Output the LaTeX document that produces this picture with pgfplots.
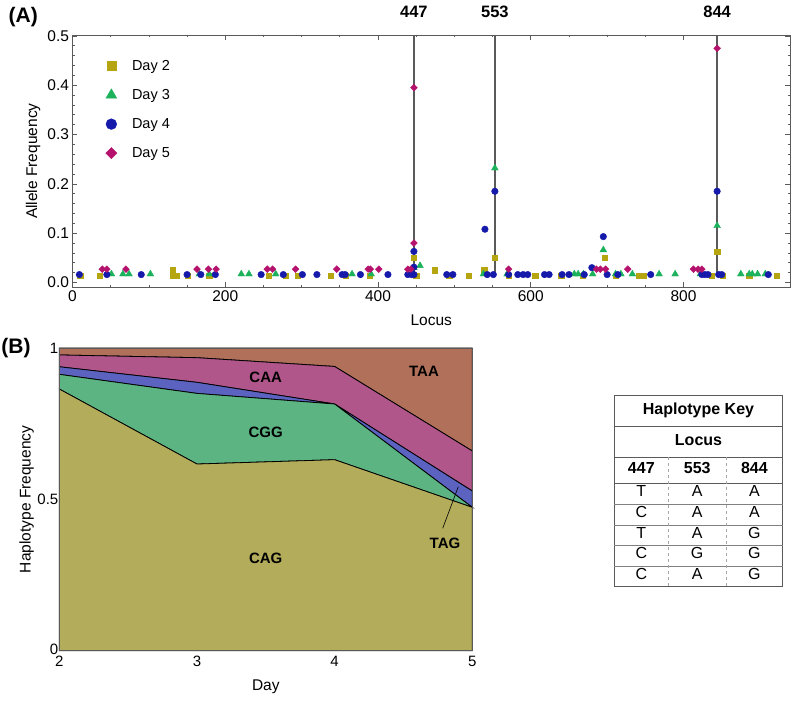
\documentclass[border=0pt]{standalone}
\usepackage{fontspec}
\setmainfont{Liberation Sans}
\usepackage{pgfplots}
\pgfplotsset{compat=1.18}
\definecolor{cSq}{RGB}{181,165,17}
\definecolor{cTr}{RGB}{28,178,92}
\definecolor{cCi}{RGB}{22,26,170}
\definecolor{cDi}{RGB}{180,18,108}
\definecolor{bCAG}{RGB}{179,173,91}
\definecolor{bCGG}{RGB}{91,180,130}
\definecolor{bTAG}{RGB}{91,98,192}
\definecolor{bCAA}{RGB}{176,86,138}
\definecolor{bTAA}{RGB}{176,112,90}
\definecolor{frm}{RGB}{90,90,90}
\begin{document}
\begin{tikzpicture}[x=1pt,y=1pt]
\useasboundingbox (0pt,0pt) rectangle (795pt,701pt);
% ---------------- Panel A ----------------
\begin{axis}[
  at={(72.5pt,413.7pt)}, anchor=south west, scale only axis,
  width=717.5pt, height=252.3pt,
  xmin=0, xmax=939.4, ymin=-0.0098, ymax=0.502,
  xtick={0,200,400,600,800}, minor x tick num=3,
  ytick={0,0.1,0.2,0.3,0.4,0.5}, minor y tick num=4,
  tick align=inside, major tick length=5pt, minor tick length=2.5pt,
  axis line style={frm, line width=0.9pt},
  every tick/.style={frm, line width=0.7pt},
  /pgf/number format/assume math mode=true,
  yticklabel style={/pgf/number format/fixed, /pgf/number format/fixed zerofill, /pgf/number format/precision=1},
  ticklabel style={font=\fontsize{15.5}{18}\selectfont},
  xlabel={Locus}, ylabel={Allele Frequency},
  label style={font=\fontsize{15.5}{18}\selectfont},
  xlabel style={at={(axis description cs:0.5,-0.131)}, anchor=center},
  ylabel style={at={(axis description cs:-0.055,0.5)}, anchor=center},
  clip=false,
  legend cell align=left,
  legend style={at={(axis description cs:0.046,0.909)}, anchor=north west, draw=none, fill=none,
    font=\fontsize{14.5}{17}\selectfont, row sep=13.5pt, column sep=13pt, inner xsep=0pt, inner ysep=0pt},
]
\addlegendimage{only marks, mark=square*, mark size=4.6pt, color=cSq}
\addlegendentry{Day 2}
\addlegendimage{only marks, mark=triangle*, mark size=6.3pt, color=cTr}
\addlegendentry{Day 3}
\addlegendimage{only marks, mark=*, mark size=5.4pt, color=cCi}
\addlegendentry{Day 4}
\addlegendimage{only marks, mark=square*, mark options={rotate=45}, mark size=4pt, color=cDi}
\addlegendentry{Day 5}
\addplot[frm, line width=1.3pt, forget plot] coordinates {(447,0.016) (447,0.502)};
\addplot[frm, line width=1.3pt, forget plot] coordinates {(553,0.016) (553,0.502)};
\addplot[frm, line width=1.3pt, forget plot] coordinates {(844,0.016) (844,0.502)};
\addplot[only marks, mark=square*, mark size=2.7pt, color=cSq, forget plot] coordinates {
(10,0.0135)(36,0.0135)(131,0.025)(131,0.0135)(136,0.0135)(151,0.0135)(179,0.0135)(257,0.0135)(279,0.0135)(295,0.0135)(338,0.0135)(358,0.0135)(389,0.0135)(447,0.05)(450,0.0135)(474,0.025)(493,0.0135)(519,0.0135)(539,0.025)(553,0.05)(571,0.0135)(606,0.0135)(640,0.0135)(668,0.0135)(697,0.05)(711,0.0135)(742,0.0135)(747,0.0135)(837,0.0135)(844,0.063)(851,0.0135)(886,0.0135)(922,0.0135)};
\addplot[only marks, mark=triangle*, mark size=3.9pt, color=cTr, forget plot] coordinates {
(51,0.017)(66,0.017)(74,0.017)(102,0.017)(166,0.017)(179,0.017)(221,0.017)(231,0.017)(266,0.017)(366,0.017)(391,0.017)(447,0.03)(455,0.034)(538,0.017)(553,0.232)(569,0.017)(657,0.017)(662,0.017)(669,0.017)(681,0.017)(695,0.066)(711,0.017)(718,0.017)(733,0.017)(768,0.017)(789,0.017)(822,0.017)(844,0.115)(875,0.017)(886,0.017)(890,0.017)(897,0.017)(907,0.017)};
\addplot[only marks, mark=*, mark size=3.3pt, color=cCi, forget plot] coordinates {
(9,0.016)(45,0.016)(90,0.016)(150,0.016)(168,0.016)(187,0.016)(247,0.016)(276,0.016)(301,0.016)(320,0.016)(353,0.016)(357,0.016)(377,0.016)(413,0.016)(439,0.016)(444,0.016)(447,0.016)(447,0.031)(447,0.063)(490,0.016)(498,0.016)(540,0.108)(543,0.016)(551,0.016)(553,0.185)(571,0.016)(583,0.016)(590,0.016)(596,0.016)(618,0.016)(624,0.016)(641,0.016)(650,0.016)(670,0.016)(680,0.03)(695,0.093)(700,0.016)(714,0.016)(757,0.016)(824,0.016)(828,0.016)(832,0.016)(844,0.185)(846,0.016)(850,0.016)(911,0.016)};
\addplot[only marks, mark=square*, mark options={rotate=45}, mark size=2.4pt, color=cDi, forget plot] coordinates {
(39,0.027)(45,0.027)(70,0.027)(163,0.027)(178,0.027)(188,0.027)(255,0.027)(262,0.027)(292,0.027)(346,0.027)(387,0.027)(390,0.027)(401,0.027)(439,0.027)(443,0.027)(447,0.08)(447,0.395)(571,0.027)(686,0.027)(691,0.027)(698,0.027)(727,0.027)(813,0.027)(819,0.027)(824,0.027)(844,0.475)};
\node[font=\bfseries\fontsize{16.5}{18}\selectfont, anchor=center] at (axis cs:447,0.502) [yshift=23pt] {447};
\node[font=\bfseries\fontsize{16.5}{18}\selectfont, anchor=center] at (axis cs:553,0.502) [yshift=23pt] {553};
\node[font=\bfseries\fontsize{16.5}{18}\selectfont, anchor=center] at (axis cs:844,0.502) [yshift=23pt] {844};
\end{axis}
% ---------------- Panel B ----------------
\begin{axis}[
  at={(59.3pt,50.3pt)}, anchor=south west, scale only axis,
  width=413pt, height=302.7pt,
  xmin=2, xmax=5, ymin=0, ymax=1,
  xtick={2,3,4,5}, ytick={0,0.5,1},
  yticklabels={\raisebox{2.5pt}{0},0.5,1},
  major tick length=0pt,
  axis on top,
  axis line style={frm, line width=0.9pt},
  /pgf/number format/assume math mode=true,
  ticklabel style={font=\fontsize{15}{18}\selectfont},
  yticklabel style={xshift=2.5pt, inner ysep=0pt, text depth=0pt},
  xticklabel style={yshift=-1.5pt},
  xlabel={Day}, ylabel={Haplotype Frequency},
  label style={font=\fontsize{15.5}{18}\selectfont},
  xlabel style={at={(axis description cs:0.5,-0.119)}, anchor=center},
  ylabel style={at={(axis description cs:-0.079,0.5)}, anchor=center},
  stack plots=y,
  clip=false,
]
\addplot[fill=bCAG, draw=black, line width=0.8pt] coordinates {(2,0.8645)(3,0.6167)(4,0.631)(5,0.4736)} \closedcycle;
\addplot[fill=bCGG, draw=black, line width=0.8pt] coordinates {(2,0.0485)(3,0.2333)(4,0.184)(5,0.0)} \closedcycle;
\addplot[fill=bTAG, draw=black, line width=0.8pt] coordinates {(2,0.025)(3,0.0366)(4,0.0)(5,0.0539)} \closedcycle;
\addplot[fill=bCAA, draw=black, line width=0.8pt] coordinates {(2,0.039)(3,0.0814)(4,0.124)(5,0.1322)} \closedcycle;
\addplot[fill=bTAA, draw=black, line width=0.8pt] coordinates {(2,0.023)(3,0.032)(4,0.061)(5,0.3403)} \closedcycle;
\end{axis}
% ---------------- Panel B region labels ----------------
\begin{scope}[every node/.style={font=\bfseries\fontsize{15}{18}\selectfont, text height=1.45ex, text depth=0pt, inner sep=0pt}]
\node at (265.7pt,322.7pt) {CAA};
\node at (265.7pt,267.7pt) {CGG};
\node at (265.7pt,141pt) {CAG};
\node at (424pt,328.7pt) {TAA};
\node at (445pt,156pt) {TAG};
\end{scope}
\draw[black, line width=0.6pt] (442.7pt,172.7pt) -- (458.3pt,214.3pt);
% ---------------- Panel labels ----------------
\node[font=\bfseries\fontsize{21}{24}\selectfont] at (23.3pt,684pt) {(A)};
\node[font=\bfseries\fontsize{21}{24}\selectfont] at (16pt,353pt) {(B)};
% ---------------- Haplotype key table ----------------
\begin{scope}[every node/.style={text height=1.45ex, text depth=0.3ex, inner sep=0pt}]
\draw[frm, line width=0.8pt] (614.3pt,114.3pt) rectangle (782.7pt,306pt);
\foreach \yy in {274.3,244,217.7} \draw[frm, line width=0.8pt] (614.3pt,\yy pt) -- (782.7pt,\yy pt);
\foreach \yy in {197,176,155.3,135} \draw[gray, line width=0.6pt] (614.3pt,\yy pt) -- (782.7pt,\yy pt);
\draw[gray!70, dashed, line width=0.5pt] (668.3pt,244pt) -- (668.3pt,114.3pt);
\draw[gray!70, dashed, line width=0.5pt] (726pt,244pt) -- (726pt,114.3pt);
\node[font=\bfseries\fontsize{16}{18}\selectfont] at (698.5pt,290pt) {Haplotype Key};
\node[font=\bfseries\fontsize{16}{18}\selectfont] at (698.5pt,259pt) {Locus};
\node[font=\bfseries\fontsize{16}{18}\selectfont] at (641.3pt,230.8pt) {447};
\node[font=\bfseries\fontsize{16}{18}\selectfont] at (697.2pt,230.8pt) {553};
\node[font=\bfseries\fontsize{16}{18}\selectfont] at (754.4pt,230.8pt) {844};
\foreach \a/\b/\c/\yy in {T/A/A/207.3, C/A/A/186.5, T/A/G/165.7, C/G/G/145.2, C/A/G/124.7} {
  \node[font=\fontsize{16}{18}\selectfont] at (641.3pt,\yy pt) {\a};
  \node[font=\fontsize{16}{18}\selectfont] at (697.2pt,\yy pt) {\b};
  \node[font=\fontsize{16}{18}\selectfont] at (754.4pt,\yy pt) {\c};
}
\end{scope}
\end{tikzpicture}
\end{document}
